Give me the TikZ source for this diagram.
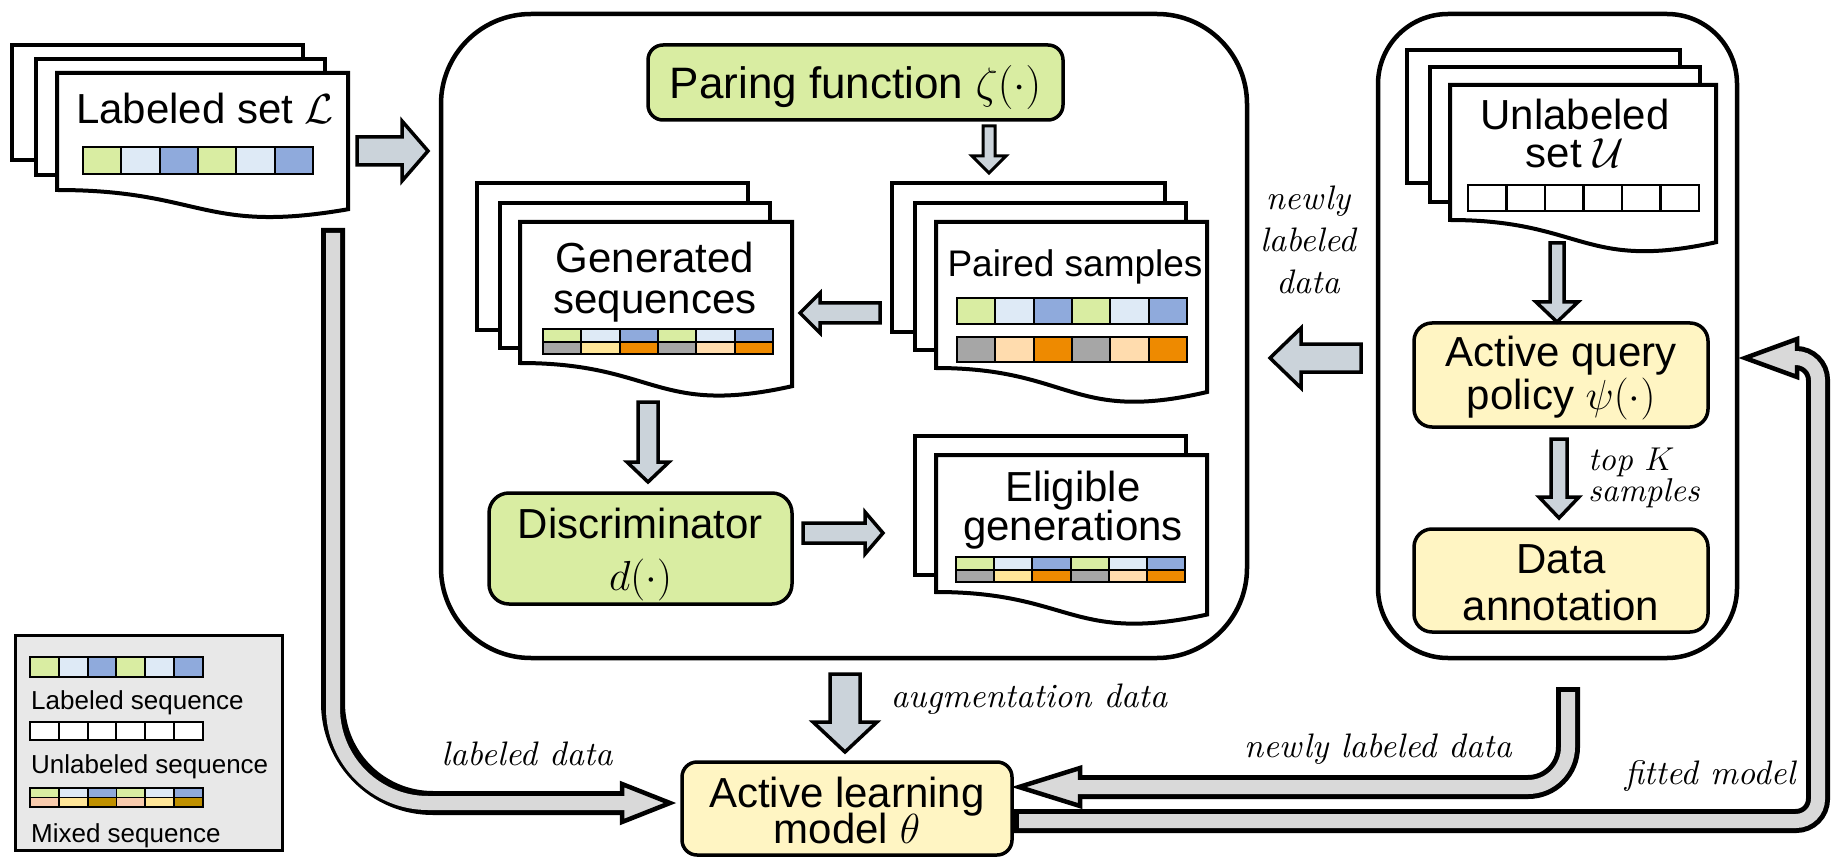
\RequirePackage{fix-cm}
\documentclass[tikz,border=0pt]{standalone}
\usepackage{fontspec}
\setsansfont{Liberation Sans}
\newfontfamily\lblfont{lmroman10-italic.otf}
\usetikzlibrary{calc}

\definecolor{boxgreen}{HTML}{D9EDA2}
\definecolor{boxyellow}{HTML}{FFF5C3}
\definecolor{cgreen}{HTML}{D9EDA2}
\definecolor{clblue}{HTML}{DEEAF6}
\definecolor{cblue}{HTML}{8FAADC}
\definecolor{cgray}{HTML}{A6A6A6}
\definecolor{cpeach}{HTML}{FFDCAE}
\definecolor{cyellow}{HTML}{FFE699}
\definecolor{corange}{HTML}{EE8A00}
\definecolor{cpink}{HTML}{F8CBAD}
\definecolor{cgold}{HTML}{BF9000}
\definecolor{arrowblue}{HTML}{CBD3DA}
\definecolor{tubegray}{HTML}{D9D9D9}
\definecolor{legendgray}{HTML}{E8E8E8}

\tikzset{
  page/.style={draw=black, fill=white, line width=4pt},
  frame/.style={draw=black, line width=4.5pt, inner sep=0pt},
  greenbox/.style={draw=black, fill=boxgreen, line width=3.5pt, inner sep=0pt},
  yellowbox/.style={draw=black, fill=boxyellow, line width=3.5pt, inner sep=0pt},
  blockarrow/.style={draw=black, fill=arrowblue, line width=3.5pt, line join=miter},
  tubeout/.style={draw=black, line width=24pt},
  tubein/.style={draw=tubegray, line width=14pt},
  tubehead/.style={draw=black, fill=tubegray, line width=4.5pt, line join=miter},
  seqline/.style={draw=black, line width=2.3pt},
  boxtext/.style={font=\sffamily\fontsize{42}{48}\selectfont, inner sep=0pt, anchor=base},
  smalltext/.style={font=\sffamily\fontsize{37}{42}\selectfont, inner sep=0pt, anchor=base},
  legtext/.style={font=\sffamily\fontsize{26}{30}\selectfont, inner sep=0pt, anchor=base west},
  lbltext/.style={font=\lblfont\fontsize{34}{38}\selectfont, inner sep=0pt, anchor=base},
}

% straight block arrow: [options] tail, tip, half body width, half head width, head length
\newcommand\blockarrow[6][]{%
  \draw[blockarrow,#1] let \p1=(#2), \p2=(#3),
      \n1={veclen(\x2-\x1,\y2-\y1)}, \n2={(\x2-\x1)/\n1}, \n3={(\y2-\y1)/\n1} in
    ({\x1-\n3*#4},{\y1+\n2*#4})
    -- ({\x2-\n2*#6-\n3*#4},{\y2-\n3*#6+\n2*#4})
    -- ({\x2-\n2*#6-\n3*#5},{\y2-\n3*#6+\n2*#5})
    -- (\x2,\y2)
    -- ({\x2-\n2*#6+\n3*#5},{\y2-\n3*#6-\n2*#5})
    -- ({\x2-\n2*#6+\n3*#4},{\y2-\n3*#6-\n2*#4})
    -- ({\x1+\n3*#4},{\y1-\n2*#4}) -- cycle;}

% document sheet with a wavy lower edge: left, top, right, lower-left y
\newcommand\docpage[4]{%
  \pgfmathsetmacro\dh{(#4-#2)/0.802}%
  \draw[page] (#1,#2) -- (#3,#2) -- (#3,{#2+0.934*\dh})
    .. controls ({(#1+#3)/2},{#2+1.1075*\dh}) and ({(#1+#3)/2},#4) .. (#1,#4) -- cycle;}

% row of six coloured cells: left, top, cell width, cell height, colours
\newcommand\seqrow[6][seqline]{%
  \foreach \cc [count=\ii from 0] in {#6}{\fill[\cc] ({#2+\ii*#4},#3) rectangle ++(#4,#5);}
  \foreach \ii in {1,...,5}{\draw[#1] ({#2+\ii*#4},#3) -- ++(0,#5);}
  \draw[#1] (#2,#3) rectangle ++({6*#4},#5);}

\begin{document}
\begin{tikzpicture}[x=1pt,y=-1pt]
\useasboundingbox (0,0) rectangle (1835,858);
\fill[white] (0,0) rectangle (1835,858);

% ---------- frames ----------
\node[frame, rounded corners=90pt, minimum width=806pt, minimum height=644pt] (augframe) at (844,336) {};
\node[frame, rounded corners=70pt, minimum width=359pt, minimum height=644pt] (queryframe) at (1557.5,336) {};

% ---------- labeled set ----------
\draw[page] (12,45) rectangle (303,160);
\draw[page] (36,59) rectangle (325,175);
\docpage{57}{73}{348}{190}
\node[boxtext] (lset) at (205,124) {Labeled set $\mathcal{L}$};
\seqrow{83}{147}{38.33}{27}{cgreen,clblue,cblue,cgreen,clblue,cblue}

% ---------- pairing function ----------
\node[greenbox, rounded corners=15pt, minimum width=415pt, minimum height=75pt] (paring) at (855.5,82.5) {};
\node[boxtext, font=\sffamily\fontsize{44}{48}\selectfont] (paringtxt) at (855.5,99) {Paring function $\zeta(\cdot)$};

% ---------- generated sequences ----------
\draw[page] (477,183) rectangle (748,330);
\draw[page] (500,203) rectangle (770,348);
\docpage{520}{222}{792}{363}
\node[boxtext] (gen1) at (655,273) {Generated};
\node[boxtext] (gen2) at (655,313) {sequences};
\seqrow[seqline,line width=2pt]{543}{329}{38.33}{12.5}{cgreen,clblue,cblue,cgreen,clblue,cblue}
\seqrow[seqline,line width=2pt]{543}{341.5}{38.33}{12.5}{cgray,cyellow,corange,cgray,cpeach,corange}

% ---------- paired samples ----------
\draw[page] (892,183) rectangle (1165,332);
\draw[page] (915,203) rectangle (1186,350);
\docpage{936}{222}{1207}{368}
\node[smalltext] (paired) at (1075,277) {Paired samples};
\seqrow{957}{298}{38.33}{26}{cgreen,clblue,cblue,cgreen,clblue,cblue}
\seqrow{957}{337}{38.33}{25}{cgray,cpeach,corange,cgray,cpeach,corange}

% ---------- discriminator ----------
\node[greenbox, rounded corners=20pt, minimum width=303pt, minimum height=111pt] (disc) at (640.5,548.5) {};
\node[boxtext] (disc1) at (640.5,538) {Discriminator};
\node[boxtext] (disc2) at (640.5,590) {$d(\cdot)$};

% ---------- eligible generations ----------
\draw[page] (915,436) rectangle (1186,575);
\docpage{936}{455}{1207}{592}
\node[boxtext] (elig1) at (1073,501) {Eligible};
\node[boxtext] (elig2) at (1073,540) {generations};
\seqrow[seqline,line width=2pt]{956}{557}{38.2}{12.5}{cgreen,clblue,cblue,cgreen,clblue,cblue}
\seqrow[seqline,line width=2pt]{956}{569.5}{38.2}{12.5}{cgray,cyellow,corange,cgray,cpeach,corange}

% ---------- unlabeled set ----------
\draw[page] (1407,50) rectangle (1680,183);
\draw[page] (1430,67) rectangle (1700,202);
\docpage{1450}{85}{1716}{220}
\node[boxtext] (uset1) at (1575,130) {Unlabeled};
\node[boxtext] (uset2) at (1575,168) {set $\mathcal{U}$};
\seqrow{1468}{185}{38.5}{26}{white,white,white,white,white,white}

% ---------- query policy and annotation ----------
\node[yellowbox, rounded corners=18pt, minimum width=294pt, minimum height=104pt] (query) at (1561,375) {};
\node[boxtext] (query1) at (1561,366) {Active query};
\node[boxtext] (query2) at (1561,409) {policy $\psi(\cdot)$};
\node[yellowbox, rounded corners=18pt, minimum width=294pt, minimum height=103pt] (annot) at (1561,580.5) {};
\node[boxtext] (annot1) at (1561,573) {Data};
\node[boxtext] (annot2) at (1561,620) {annotation};

% ---------- active learning model ----------
\node[yellowbox, rounded corners=15pt, minimum width=330pt, minimum height=93pt] (model) at (847,808.5) {};
\node[boxtext] (model1) at (847,807) {Active learning};
\node[boxtext] (model2) at (847,843) {model $\theta$};

% ---------- legend ----------
\node[draw=black, fill=legendgray, line width=3pt, minimum width=267pt, minimum height=215pt, inner sep=0pt] (legend) at (148.5,742.5) {};
\seqrow[seqline,line width=2pt]{30}{657}{28.8}{20}{cgreen,clblue,cblue,cgreen,clblue,cblue}
\node[legtext] (leg1) at (31,709) {Labeled sequence};
\seqrow[seqline,line width=2pt]{30}{722}{28.8}{18}{white,white,white,white,white,white}
\node[legtext] (leg2) at (31,773) {Unlabeled sequence};
\seqrow[seqline,line width=1.8pt]{30}{788}{28.8}{9.5}{cgreen,clblue,cblue,cgreen,clblue,cblue}
\seqrow[seqline,line width=1.8pt]{30}{797.5}{28.8}{9.5}{cpink,cyellow,cgold,cpink,cyellow,cgold}
\node[legtext] (leg3) at (31,842) {Mixed sequence};

% ---------- straight block arrows ----------
\coordinate (a1s) at (357,151);  \coordinate (a1e) at (428,151);
\coordinate (a2s) at (989,126);  \coordinate (a2e) at (989,173);
\coordinate (a3s) at (880,313);  \coordinate (a3e) at (800,313);
\coordinate (a4s) at (648,402);  \coordinate (a4e) at (648,482);
\coordinate (a5s) at (803,533);  \coordinate (a5e) at (883,533);
\coordinate (a6s) at (1557,243); \coordinate (a6e) at (1557,322);
\coordinate (a7s) at (1559,439); \coordinate (a7e) at (1559,518);
\coordinate (a8s) at (1361,358); \coordinate (a8e) at (1270,358);
\coordinate (a9s) at (845,674);  \coordinate (a9e) at (845,752);
\blockarrow{a1s}{a1e}{14}{30}{26}
\blockarrow[line width=3pt]{a2s}{a2e}{6}{17}{17}
\blockarrow{a3s}{a3e}{10}{20}{20}
\blockarrow{a4s}{a4e}{10}{21}{20}
\blockarrow{a5s}{a5e}{10}{21}{18}
\blockarrow{a6s}{a6e}{7}{21}{20}
\blockarrow{a7s}{a7e}{8}{20}{21}
\blockarrow{a8s}{a8e}{14}{30}{31}
\blockarrow{a9s}{a9e}{15}{32}{30}

% ---------- curved tube arrows ----------
% labeled data
\draw[tubeout, rounded corners=100pt] (333,228) -- (333,803) -- (630,803);
\draw[tubehead] (622,784) -- (670,803) -- (622,822) -- cycle;
\draw[tubein, rounded corners=95pt] (333,233) -- (333,803) -- (630,803);
% newly labeled data
\draw[tubeout, rounded corners=40pt] (1568,687) -- (1568,787) -- (1072,787);
\draw[tubehead] (1080,768) -- (1019,787) -- (1080,806) -- cycle;
\draw[tubein, rounded corners=40pt] (1568,692) -- (1568,787) -- (1072,787);
% fitted model
\draw[tubeout, rounded corners=22pt] (1014,821) -- (1818,821) -- (1818,358) -- (1790,358);
\draw[tubehead] (1797,339) -- (1745,358) -- (1797,377) -- cycle;
\draw[tubein, rounded corners=22pt] (1019,821) -- (1818,821) -- (1818,358) -- (1790,358);

% ---------- flow labels ----------
\node[lbltext] (nl1) at (1308,210) {newly};
\node[lbltext] (nl2) at (1308,252) {labeled};
\node[lbltext] (nl3) at (1308,294) {data};
\node[lbltext, font=\lblfont\fontsize{33}{36}\selectfont, anchor=base west] (tk1) at (1588,470) {top $K$};
\node[lbltext, font=\lblfont\fontsize{33}{36}\selectfont, anchor=base west] (tk2) at (1588,501) {samples};
\node[lbltext] (augl) at (1029,707) {augmentation data};
\node[lbltext] (ldl) at (527,765) {labeled data};
\node[lbltext] (nll) at (1378,757) {newly labeled data};
\node[lbltext] (fml) at (1710,784) {fitted model};
\end{tikzpicture}
\end{document}
